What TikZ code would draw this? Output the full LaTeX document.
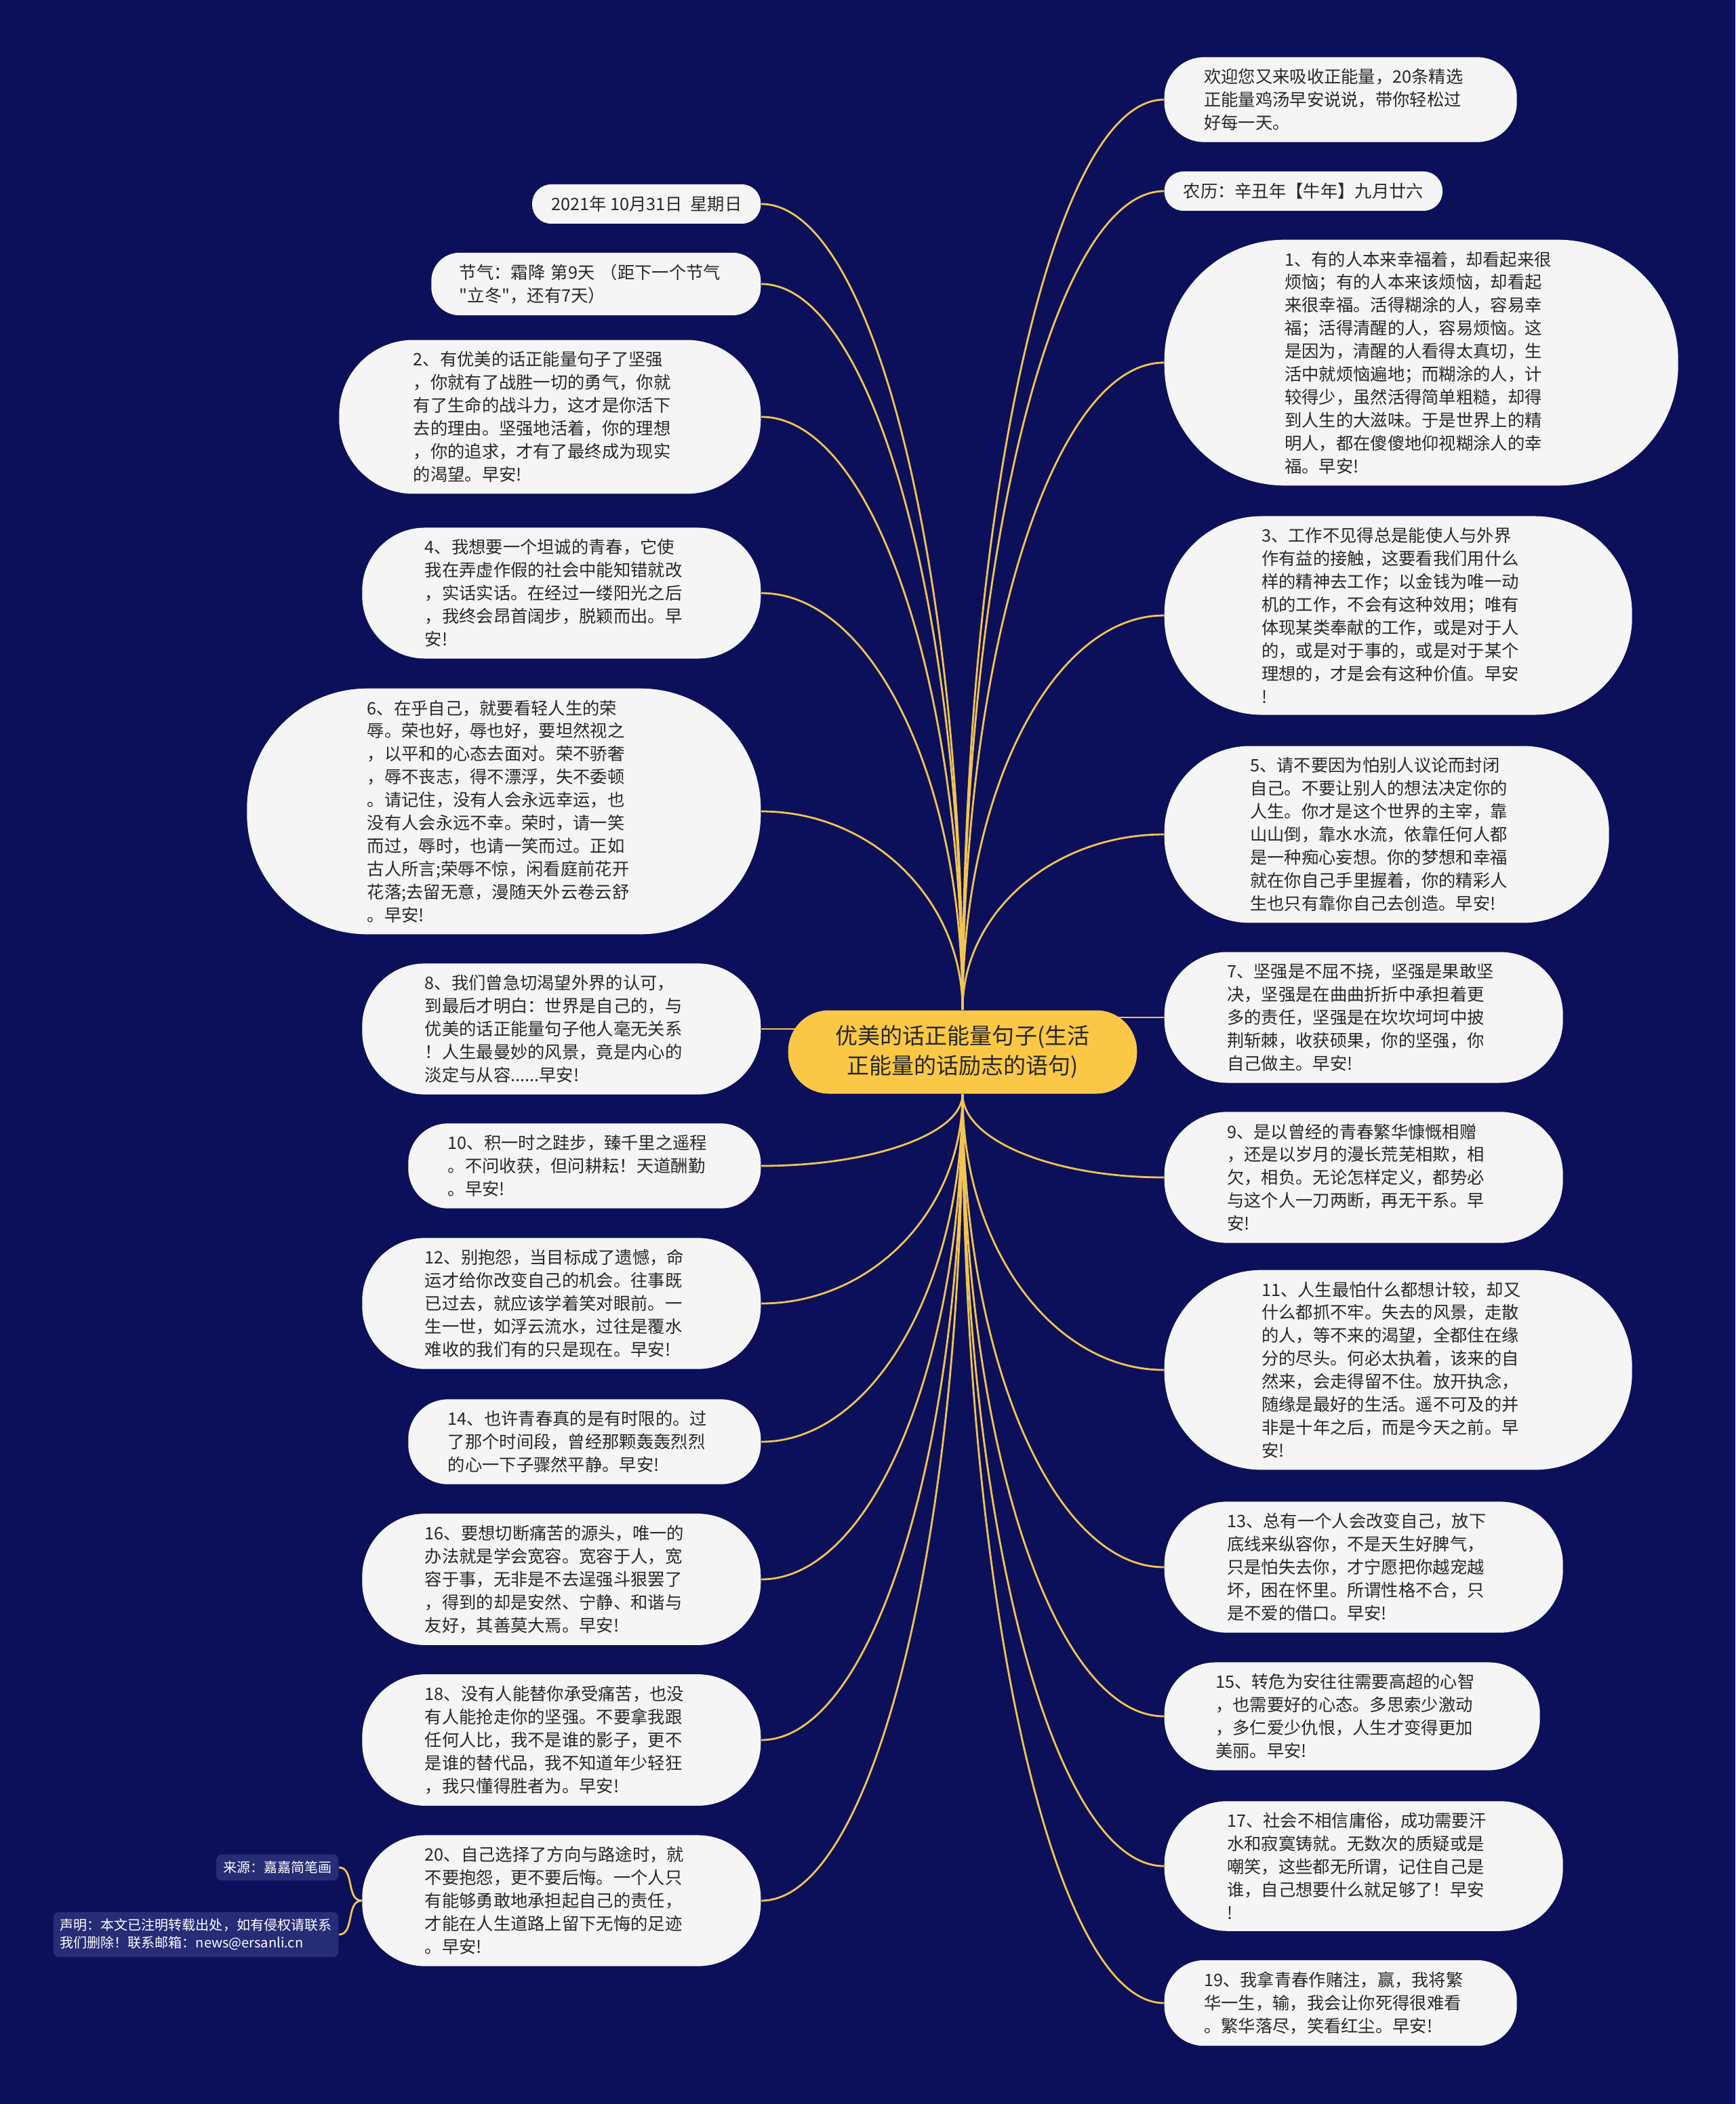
\documentclass[tikz,border=0pt]{standalone}
\usepackage{fontspec}
\setmainfont{Noto Sans CJK SC}[Ligatures=TeXOff]
\usetikzlibrary{calc}
\definecolor{navy}{RGB}{12,16,90}
\definecolor{cardfill}{RGB}{245,245,245}
\definecolor{ink}{RGB}{40,40,40}
\definecolor{gold}{RGB}{250,200,70}
\definecolor{wiregold}{RGB}{242,196,82}
\definecolor{tagblue}{RGB}{38,44,118}
\pgfdeclarelayer{backdrop}
\pgfdeclarelayer{wires}
\pgfsetlayers{backdrop,wires,main}
\begin{document}
\begin{tikzpicture}[
    card/.style={rectangle, rounded corners=#1, inner xsep=#1, inner ysep=0.17cm,
        minimum height=0.58cm, fill=cardfill, text=ink, align=left,
        font=\fontsize{7.2}{9.65}\selectfont},
    leftnote/.style={card=#1, anchor=east},
    rightnote/.style={card=#1, anchor=west},
    leftcard/.style={leftnote=#1, text width=4.03cm},
    rightcard/.style={rightnote=#1, text width=4.03cm},
    rootcard/.style={rectangle, rounded corners=0.6cm, fill=gold, text=ink, align=center,
        inner xsep=0.7cm, inner ysep=0.2cm, minimum height=1.23cm,
        font=\fontsize{9.4}{12.6}\selectfont},
    tag/.style={rounded corners=0.08cm, fill=tagblue, text=white, align=left,
        anchor=east, inner xsep=0.1cm, inner ysep=0.1cm,
        font=\fontsize{5.7}{7.4}\selectfont},
    wire/.style={draw=wiregold, line width=0.8pt}
]
    \begin{pgfonlayer}{backdrop}
        \fill[navy] (0,0) rectangle (25.6,-31.04);
    \end{pgfonlayer}

    \node[rootcard] (root) at (14.20,-15.52) {优美的话正能量句子(生活\\正能量的话励志的语句)};

    % right side
    \node[rightcard=0.585cm] (hello) at (17.17,-1.47) {欢迎您又来吸收正能量，20条精选\\正能量鸡汤早安说说，带你轻松过\\好每一天。};
    \node[rightnote=0.28cm] (lunar) at (17.17,-2.82) {农历：辛丑年【牛年】九月廿六};
    \node[rightcard=1.775cm] (n1) at (17.17,-5.35) {1、有的人本来幸福着，却看起来很\\烦恼；有的人本来该烦恼，却看起\\来很幸福。活得糊涂的人，容易幸\\福；活得清醒的人，容易烦恼。这\\是因为，清醒的人看得太真切，生\\活中就烦恼遍地；而糊涂的人，计\\较得少，虽然活得简单粗糙，却得\\到人生的大滋味。于是世界上的精\\明人，都在傻傻地仰视糊涂人的幸\\福。早安!};
    \node[rightcard=1.435cm] (n3) at (17.17,-9.08) {3、工作不见得总是能使人与外界\\作有益的接触，这要看我们用什么\\样的精神去工作；以金钱为唯一动\\机的工作，不会有这种效用；唯有\\体现某类奉献的工作，或是对于人\\的，或是对于事的，或是对于某个\\理想的，才是会有这种价值。早安\\!};
    \node[rightcard=1.265cm] (n5) at (17.17,-12.31) {5、请不要因为怕别人议论而封闭\\自己。不要让别人的想法决定你的\\人生。你才是这个世界的主宰，靠\\山山倒，靠水水流，依靠任何人都\\是一种痴心妄想。你的梦想和幸福\\就在你自己手里握着，你的精彩人\\生也只有靠你自己去创造。早安!};
    \node[rightcard=0.925cm] (n7) at (17.17,-15.01) {7、坚强是不屈不挠，坚强是果敢坚\\决，坚强是在曲曲折折中承担着更\\多的责任，坚强是在坎坎坷坷中披\\荆斩棘，收获硕果，你的坚强，你\\自己做主。早安!};
    \node[rightcard=0.925cm] (n9) at (17.17,-17.37) {9、是以曾经的青春繁华慷慨相赠\\，还是以岁月的漫长荒芜相欺，相\\欠，相负。无论怎样定义，都势必\\与这个人一刀两断，再无干系。早\\安!};
    \node[rightcard=1.435cm] (n11) at (17.17,-20.21) {11、人生最怕什么都想计较，却又\\什么都抓不牢。失去的风景，走散\\的人，等不来的渴望，全都住在缘\\分的尽头。何必太执着，该来的自\\然来，会走得留不住。放开执念，\\随缘是最好的生活。遥不可及的并\\非是十年之后，而是今天之前。早\\安!};
    \node[rightcard=0.925cm] (n13) at (17.17,-23.12) {13、总有一个人会改变自己，放下\\底线来纵容你，不是天生好脾气，\\只是怕失去你，才宁愿把你越宠越\\坏，困在怀里。所谓性格不合，只\\是不爱的借口。早安!};
    \node[rightcard=0.755cm] (n15) at (17.17,-25.32) {15、转危为安往往需要高超的心智\\，也需要好的心态。多思索少激动\\，多仁爱少仇恨，人生才变得更加\\美丽。早安!};
    \node[rightcard=0.925cm] (n17) at (17.17,-27.53) {17、社会不相信庸俗，成功需要汗\\水和寂寞铸就。无数次的质疑或是\\嘲笑，这些都无所谓，记住自己是\\谁，自己想要什么就足够了！早安\\!};
    \node[rightcard=0.585cm] (n19) at (17.17,-29.55) {19、我拿青春作赌注，赢，我将繁\\华一生，输，我会让你死得很难看\\。繁华落尽，笑看红尘。早安!};

    % left side
    \node[leftnote=0.28cm] (date) at (11.23,-3.01) {2021年 10月31日~ 星期日};
    \node[leftcard=0.415cm] (term) at (11.23,-4.19) {节气：霜降 第9天 （距下一个节气\\"立冬"，还有7天）};
    \node[leftcard=1.095cm] (n2) at (11.23,-6.15) {2、有优美的话正能量句子了坚强\\，你就有了战胜一切的勇气，你就\\有了生命的战斗力，这才是你活下\\去的理由。坚强地活着，你的理想\\，你的追求，才有了最终成为现实\\的渴望。早安!};
    \node[leftcard=0.925cm] (n4) at (11.23,-8.75) {4、我想要一个坦诚的青春，它使\\我在弄虚作假的社会中能知错就改\\，实话实话。在经过一缕阳光之后\\，我终会昂首阔步，脱颖而出。早\\安!};
    \node[leftcard=1.775cm] (n6) at (11.23,-11.97) {6、在乎自己，就要看轻人生的荣\\辱。荣也好，辱也好，要坦然视之\\，以平和的心态去面对。荣不骄奢\\，辱不丧志，得不漂浮，失不委顿\\。请记住，没有人会永远幸运，也\\没有人会永远不幸。荣时，请一笑\\而过，辱时，也请一笑而过。正如\\古人所言;荣辱不惊，闲看庭前花开\\花落;去留无意，漫随天外云卷云舒\\。早安!};
    \node[leftcard=0.925cm] (n8) at (11.23,-15.18) {8、我们曾急切渴望外界的认可，\\到最后才明白：世界是自己的，与\\优美的话正能量句子他人毫无关系\\！人生最曼妙的风景，竟是内心的\\淡定与从容......早安!};
    \node[leftcard=0.585cm] (n10) at (11.23,-17.20) {10、积一时之跬步，臻千里之遥程\\。不问收获，但问耕耘！天道酬勤\\。早安!};
    \node[leftcard=0.925cm] (n12) at (11.23,-19.23) {12、别抱怨，当目标成了遗憾，命\\运才给你改变自己的机会。往事既\\已过去，就应该学着笑对眼前。一\\生一世，如浮云流水，过往是覆水\\难收的我们有的只是现在。早安!};
    \node[leftcard=0.585cm] (n14) at (11.23,-21.27) {14、也许青春真的是有时限的。过\\了那个时间段，曾经那颗轰轰烈烈\\的心一下子骤然平静。早安!};
    \node[leftcard=0.925cm] (n16) at (11.23,-23.30) {16、要想切断痛苦的源头，唯一的\\办法就是学会宽容。宽容于人，宽\\容于事，无非是不去逞强斗狠罢了\\，得到的却是安然、宁静、和谐与\\友好，其善莫大焉。早安!};
    \node[leftcard=0.925cm] (n18) at (11.23,-25.67) {18、没有人能替你承受痛苦，也没\\有人能抢走你的坚强。不要拿我跟\\任何人比，我不是谁的影子，更不\\是谁的替代品，我不知道年少轻狂\\，我只懂得胜者为。早安!};
    \node[leftcard=0.925cm] (n20) at (11.23,-28.04) {20、自己选择了方向与路途时，就\\不要抱怨，更不要后悔。一个人只\\有能够勇敢地承担起自己的责任，\\才能在人生道路上留下无悔的足迹\\。早安!};

    \node[tag] (src) at (5.00,-27.55) {来源：嘉嘉简笔画};
    \node[tag] (note) at (5.00,-28.54) {声明：本文已注明转载出处，如有侵权请联系\\我们删除！联系邮箱：news@ersanli.cn};

    \begin{pgfonlayer}{wires}
        \foreach \k in {hello,lunar,n1,n3,n5}
            \draw[wire] let \p1=(root.north), \p2=(\k.west) in
                (\p1) .. controls (\x1,{0.4477*\y1+0.5523*\y2}) and ({0.5523*\x1+0.4477*\x2},\y2) .. (\p2);
        \foreach \k in {n9,n11,n13,n15,n17,n19}
            \draw[wire] let \p1=(root.south), \p2=(\k.west) in
                (\p1) .. controls (\x1,{0.4477*\y1+0.5523*\y2}) and ({0.5523*\x1+0.4477*\x2},\y2) .. (\p2);
        \foreach \k in {date,term,n2,n4,n6}
            \draw[wire] let \p1=(root.north), \p2=(\k.east) in
                (\p1) .. controls (\x1,{0.4477*\y1+0.5523*\y2}) and ({0.5523*\x1+0.4477*\x2},\y2) .. (\p2);
        \foreach \k in {n10,n12,n14,n16,n18,n20}
            \draw[wire] let \p1=(root.south), \p2=(\k.east) in
                (\p1) .. controls (\x1,{0.4477*\y1+0.5523*\y2}) and ({0.5523*\x1+0.4477*\x2},\y2) .. (\p2);
        \draw[wire] (n7.west) -- (n7.west -| root.center);
        \draw[wire] (n8.east) -- (n8.east -| root.center);
        \draw[wire] (n20.west) to[out=180,in=0] (src.east);
        \draw[wire] (n20.west) to[out=180,in=0] (note.east);
    \end{pgfonlayer}
\end{tikzpicture}
\end{document}
